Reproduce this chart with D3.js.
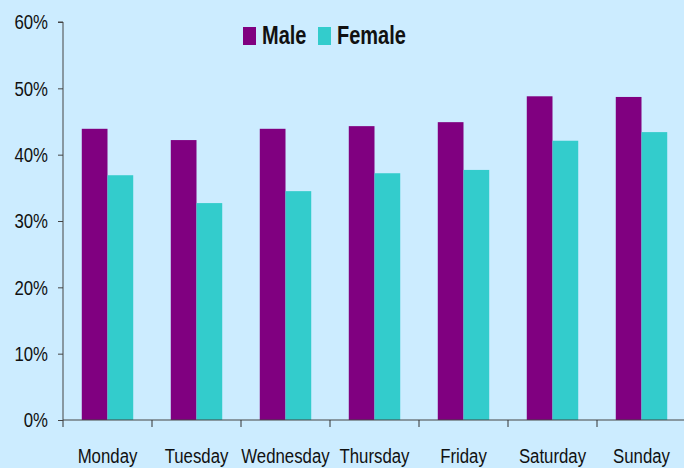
<!DOCTYPE html>
<html>
<head>
<meta charset="utf-8">
<script src="https://cdn.jsdelivr.net/npm/d3@7"></script>
<style>
  body { margin: 0; background: #ccecff; }
  svg { display: block; font-family: "Liberation Sans", Arial, sans-serif; }
</style>
</head>
<body>
<svg width="684" height="468"></svg>
<script>
// days and the two series (share, %)
const days = ["Monday", "Tuesday", "Wednesday", "Thursday", "Friday", "Saturday", "Sunday"];
const male = [43.9, 42.2, 43.9, 44.3, 44.9, 48.8, 48.7];
const female = [36.9, 32.7, 34.5, 37.2, 37.7, 42.1, 43.4];
const series = ["Male", "Female"];
const colors = ["#800080", "#33cccc"];
const yTicks = [0, 10, 20, 30, 40, 50, 60];

// text in the original is a narrow face, squeeze it
const squeeze = 0.8;

let svg = d3.select("svg");
svg.append("rect").attr("width", 684).attr("height", 468).attr("fill", "#ccecff");

let x0 = 63, x1 = 686, yTop = 22, yBot = 420;

let xScale = d3.scaleBand().domain(days).range([x0, x1]);
let xInner = d3.scaleBand().domain(series).range([0, xScale.bandwidth()]).paddingInner(0).paddingOuter(0.73);
let yScale = d3.scaleLinear().domain([0, 60]).range([yBot, yTop]);

let data = days.map(function(d, i) {
  return { day: d, values: [male[i], female[i]] };
});

// bars
let groups = svg.selectAll(".day")
  .data(data)
  .enter()
  .append("g")
  .attr("transform", function(d) { return "translate(" + xScale(d.day) + ",0)"; });

groups.selectAll("rect")
  .data(function(d) { return d.values.map(function(v, i) { return { s: series[i], v: v, c: colors[i] }; }); })
  .enter()
  .append("rect")
  .attr("x", function(d) { return xInner(d.s); })
  .attr("y", function(d) { return yScale(d.v); })
  .attr("width", xInner.bandwidth())
  .attr("height", function(d) { return yBot - yScale(d.v); })
  .attr("fill", function(d) { return d.c; });

// x axis
let xAxis = svg.append("g")
  .attr("transform", "translate(0," + yBot + ")")
  .call(d3.axisBottom(xScale).tickSize(0).tickPadding(28));
xAxis.select(".domain").attr("stroke", "#444").attr("d", "M" + x0 + ",0H" + x1);
xAxis.selectAll("text")
  .attr("font-size", 21).attr("fill", "#111").attr("font-family", null)
  .attr("transform", "scale(" + squeeze + ",1)");
xAxis.selectAll(".sep")
  .data(days)
  .enter()
  .append("line")
  .attr("class", "sep")
  .attr("x1", function(d) { return xScale(d); })
  .attr("x2", function(d) { return xScale(d); })
  .attr("y1", 0)
  .attr("y2", 7)
  .attr("stroke", "#333");

// y axis
let yAxis = svg.append("g")
  .attr("transform", "translate(" + x0 + ",0)")
  .call(d3.axisLeft(yScale).tickValues(yTicks).tickSize(5).tickPadding(10).tickFormat(function(d) { return d + "%"; }));
yAxis.select(".domain").attr("d", "M-5," + yTop + "H0V" + yBot);
yAxis.selectAll("path, line").attr("stroke", "#444");
yAxis.selectAll("text")
  .attr("font-size", 21).attr("fill", "#111").attr("font-family", null)
  .attr("x", -15 / squeeze)
  .attr("transform", "scale(" + squeeze + ",1)");

// legend
let legend = svg.append("g");
let legendX = [243, 318];
series.forEach(function(s, i) {
  legend.append("rect")
    .attr("x", legendX[i]).attr("y", 27)
    .attr("width", 13).attr("height", 18)
    .attr("fill", colors[i]);
  legend.append("text")
    .attr("transform", "translate(" + (legendX[i] + 19) + ",44) scale(" + squeeze + ",1)")
    .attr("font-size", 25).attr("font-weight", "bold").attr("fill", "#111")
    .text(s);
});
</script>
</body>
</html>
